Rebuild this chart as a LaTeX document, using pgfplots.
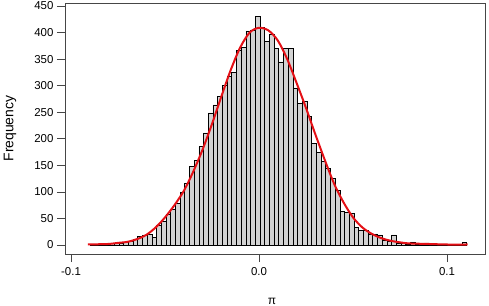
\documentclass[border=0pt]{standalone}
\usepackage{fontspec}
\setmainfont{Liberation Sans}
\usepackage{pgfplots}
\usepackage{pgfplotstable}
\pgfplotsset{compat=1.18}
\usetikzlibrary{calc}
\definecolor{barfill}{RGB}{211,211,211}
\definecolor{curvered}{RGB}{228,16,22}
\definecolor{frame}{RGB}{70,70,70}

\pgfplotstableread{
x y
-0.0895 1
-0.0870 0
-0.0845 1
-0.0820 1
-0.0795 3
-0.0770 4
-0.0745 4
-0.0720 6
-0.0695 8
-0.0670 10
-0.0645 16
-0.0620 19
-0.0595 20
-0.0570 14
-0.0545 38
-0.0520 45
-0.0495 58
-0.0470 68
-0.0445 78
-0.0420 100
-0.0395 117
-0.0370 148
-0.0345 160
-0.0320 185
-0.0295 211
-0.0270 249
-0.0245 264
-0.0220 280
-0.0195 300
-0.0170 317
-0.0145 325
-0.0120 367
-0.0095 372
-0.0070 403
-0.0045 405
-0.0020 431
0.0005 410
0.0030 383
0.0055 396
0.0080 370
0.0105 345
0.0130 370
0.0155 370
0.0180 296
0.0205 267
0.0230 270
0.0255 242
0.0280 192
0.0305 175
0.0330 157
0.0355 145
0.0380 125
0.0405 103
0.0430 63
0.0455 62
0.0480 60
0.0505 33
0.0530 27
0.0555 28
0.0580 21
0.0605 21
0.0630 19
0.0655 9
0.0680 7
0.0705 19
0.0730 4
0.0755 3
0.0780 2
0.0805 6
0.0830 1
0.0855 2
0.0880 4
0.0905 1
0.0930 1
0.0955 0
0.0980 1
0.1005 0
0.1030 1
0.1055 0
0.1080 5
0.1105 0
}\bins

\pgfplotstableread{
x y
-0.091 1
-0.085 1.5
-0.080 2
-0.075 4
-0.070 6
-0.065 11
-0.060 19
-0.055 33
-0.050 52
-0.045 75
-0.040 102
-0.035 138
-0.030 180
-0.025 228
-0.020 280
-0.015 330
-0.010 372
-0.005 400
0.000 409
0.005 404
0.010 385
0.015 350
0.020 305
0.025 258
0.030 208
0.035 160
0.040 115
0.045 80
0.050 52
0.055 33
0.060 21
0.065 13
0.070 8
0.075 5
0.080 3
0.090 2
0.100 1
0.111 1
}\dens

\begin{document}
\begin{tikzpicture}
\begin{axis}[
 scale only axis, width=420bp, height=251bp,
 xmin=-0.1032, xmax=0.1202, ymin=-16.9, ymax=455.7,
 xtick={-0.1,0,0.1}, xticklabels={-0.1,0.0,0.1},
 ytick={0,50,...,450},
 tick align=outside, tick pos=left, major tick length=8bp,
 axis line style={frame, line width=0.7pt},
 tick style={frame, line width=0.7pt},
 tick label style={font=\fontsize{11.5}{13}\selectfont},
 xticklabel style={yshift=-2bp},
 /pgf/number format/assume math mode=true,
 xlabel={π}, ylabel={Frequency},
 xlabel style={at={(axis description cs:0.493,0)}, anchor=base, yshift=-50bp, font=\fontsize{12}{14}\selectfont},
 ylabel style={at={(axis description cs:-0.1231,0.5)}, anchor=base, font=\fontsize{14}{16}\selectfont},
]
\addplot[ybar interval, fill=barfill, draw=black, line width=0.55pt] table {\bins};
\addplot[curvered, line width=2bp, smooth] table {\dens};
\coordinate (bl) at (rel axis cs:0,0);
\coordinate (tr) at (rel axis cs:1,1);
\end{axis}
\pgfresetboundingbox
\useasboundingbox ($(bl)+(-65bp,-52bp)$) rectangle ($(tr)+(4bp,3bp)$);
\end{tikzpicture}
\end{document}
